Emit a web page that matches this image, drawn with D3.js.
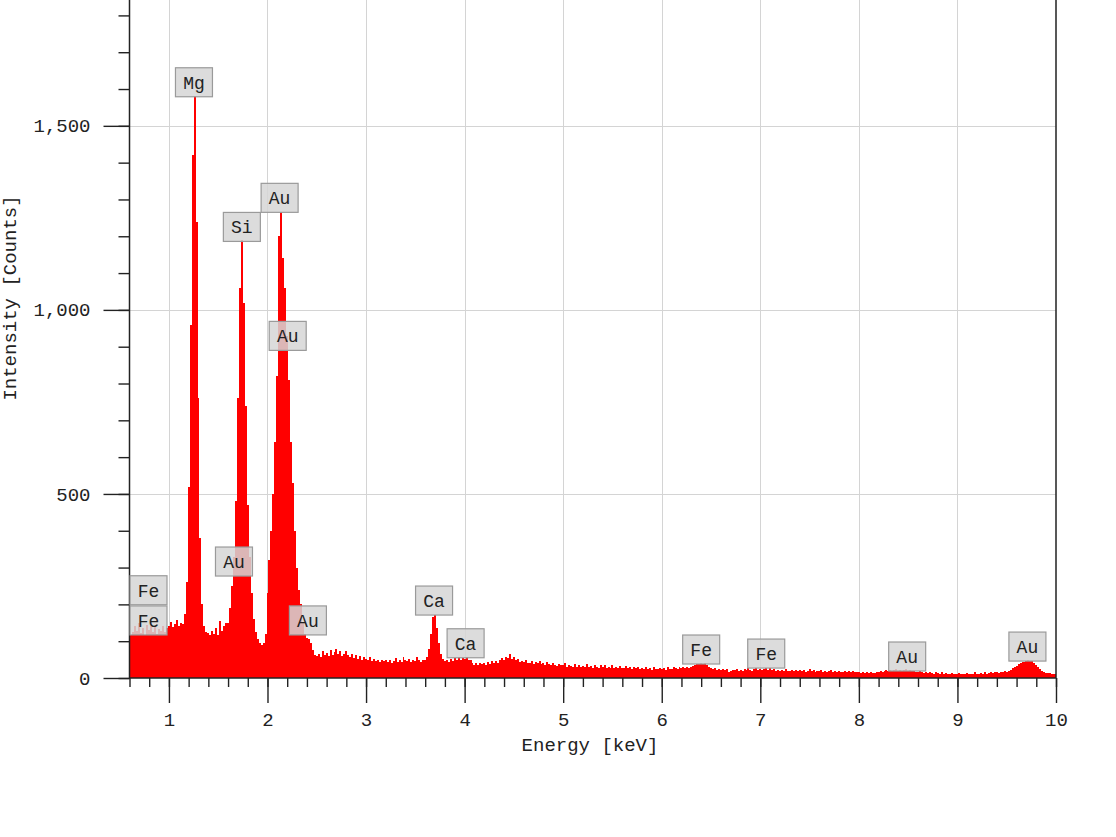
<!DOCTYPE html>
<html>
<head>
<meta charset="utf-8">
<script src="https://cdn.jsdelivr.net/npm/d3@7/dist/d3.min.js"></script>
<style>
  body { margin: 0; background: #fff; }
  svg text { font-family: "Liberation Mono", "DejaVu Sans Mono", monospace; fill: #222; }
</style>
</head>
<body>
<script>
// Spectrum channels: first channel energy and channel width (keV)
const startEnergy = 0.6;
const channelWidth = 0.02;

// Counts per channel, 0.60 .. 10.00 keV, rows of 0.2 keV
const counts = [
  112, 118, 125, 140, 128, 150, 122, 135, 118, 145, // 0.60
  130, 142, 125, 138, 120, 132, 128, 140, 126, 135, // 0.80
  140, 152, 138, 148, 158, 142, 150, 148, 175, 260, // 1.00
  520, 960, 1420, 1580, 1240, 760, 380, 200, 140, 125, // 1.20
  122, 118, 128, 120, 135, 118, 155, 128, 140, 150, // 1.40
  150, 190, 250, 330, 480, 760, 1060, 1190, 1020, 740, // 1.60
  470, 330, 230, 160, 125, 105, 95, 90, 95, 120, // 1.80
  230, 320, 400, 500, 640, 820, 1200, 1265, 1140, 1060, // 2.00
  930, 810, 640, 530, 400, 300, 240, 200, 150, 120, // 2.20
  110, 105, 95, 75, 62, 60, 66, 58, 72, 62, // 2.40
  68, 60, 76, 62, 70, 80, 64, 72, 60, 66, // 2.60
  74, 62, 58, 66, 55, 62, 52, 60, 50, 58, // 2.80
  52, 48, 56, 46, 52, 45, 50, 44, 49, 47, // 3.00
  50, 44, 48, 42, 46, 54, 44, 50, 43, 56, // 3.20
  48, 45, 52, 44, 50, 46, 58, 48, 44, 50, // 3.40
  48, 56, 80, 120, 165, 170, 135, 95, 65, 52, // 3.60
  46, 50, 44, 52, 47, 54, 49, 56, 50, 54, // 3.80
  52, 56, 50, 48, 42, 36, 40, 34, 42, 37, // 4.00
  41, 36, 44, 38, 45, 40, 47, 42, 49, 53, // 4.20
  50, 58, 55, 64, 52, 58, 48, 52, 44, 47, // 4.40
  44, 48, 40, 42, 46, 38, 43, 40, 45, 37, // 4.60
  40, 35, 44, 37, 34, 41, 36, 33, 39, 35, // 4.80
  34, 40, 31, 36, 33, 30, 38, 31, 35, 29, // 5.00
  33, 30, 37, 29, 32, 28, 36, 30, 28, 34, // 5.20
  29, 35, 28, 31, 27, 34, 28, 30, 26, 33, // 5.40
  28, 26, 32, 27, 31, 25, 30, 26, 29, 24, // 5.60
  28, 25, 31, 24, 27, 23, 30, 25, 24, 28, // 5.80
  24, 27, 23, 30, 25, 24, 31, 26, 25, 29, // 6.00
  26, 29, 27, 31, 28, 30, 33, 34, 37, 38, // 6.20
  40, 37, 41, 34, 31, 28, 25, 27, 23, 25, // 6.40
  22, 25, 21, 24, 15, 20, 23, 21, 24, 20, // 6.60
  23, 20, 24, 21, 26, 22, 20, 24, 27, 22, // 6.80
  25, 21, 24, 28, 22, 26, 21, 24, 20, 23, // 7.00
  19, 23, 18, 24, 20, 19, 23, 18, 21, 19, // 7.20
  23, 18, 21, 17, 20, 24, 18, 21, 17, 20, // 7.40
  18, 22, 17, 20, 16, 19, 22, 17, 19, 16, // 7.60
  19, 17, 15, 20, 16, 18, 15, 19, 16, 15, // 7.80
  17, 14, 16, 13, 17, 14, 16, 13, 14, 17, // 8.00
  15, 18, 16, 19, 21, 19, 23, 20, 22, 24, // 8.20
  20, 23, 19, 22, 24, 20, 23, 19, 18, 17, // 8.40
  16, 19, 15, 14, 17, 13, 15, 14, 12, 15, // 8.60
  13, 12, 15, 11, 13, 12, 11, 14, 10, 12, // 8.80
  11, 13, 10, 12, 11, 14, 10, 12, 11, 15, // 9.00
  12, 11, 14, 12, 15, 12, 13, 16, 13, 15, // 9.20
  15, 14, 17, 15, 19, 16, 18, 22, 26, 30, // 9.40
  33, 37, 40, 43, 44, 47, 48, 45, 47, 42, // 9.60
  36, 30, 24, 18, 15, 14, 13, 14, 12, 11, // 9.80
  10                                       // 10.00
];

// Peak markers: element, line energy (keV), marker height (counts)
const peakElements = ["Fe", "Fe", "Mg", "Au", "Si", "Au", "Au", "Au", "Ca", "Ca", "Fe", "Fe", "Au", "Au"];
const peakEnergies = [0.705, 0.718, 1.254, 1.66, 1.74, 2.123, 2.205, 2.41, 3.69, 4.01, 6.4, 7.06, 8.49, 9.71];
const peakHeights = [199, 117, 1579, 277, 1186, 1265, 890, 117, 171, 55, 38, 27, 19, 46];

// Axis ticks
const xMajorTicks = [1, 2, 3, 4, 5, 6, 7, 8, 9, 10];
const yMajorTicks = [0, 500, 1000, 1500];

const width = 1116;
const height = 837;
const plotLeft = 129.5;
const plotRight = 1056;
const plotBottom = 678;
const plotTop = -3;

const x = d3.scaleLinear().domain([0.6, 10]).range([plotLeft, plotRight]);
const y = d3.scaleLinear().domain([0, 1850]).range([plotBottom, plotTop]);

const spectrum = counts.map((c, i) => ({ e: startEnergy + i * channelWidth, c: c }));

const svg = d3
  .select("body")
  .append("svg")
  .attr("width", width)
  .attr("height", height);

// Grid
svg
  .append("g")
  .selectAll("line")
  .data(xMajorTicks.slice(0, -1))
  .join("line")
  .attr("x1", (d) => Math.round(x(d)) + 0.5)
  .attr("x2", (d) => Math.round(x(d)) + 0.5)
  .attr("y1", plotTop)
  .attr("y2", plotBottom)
  .attr("stroke", "#d4d4d4");

svg
  .append("g")
  .selectAll("line")
  .data(yMajorTicks.slice(1))
  .join("line")
  .attr("x1", plotLeft)
  .attr("x2", plotRight)
  .attr("y1", (d) => Math.round(y(d)) + 0.5)
  .attr("y2", (d) => Math.round(y(d)) + 0.5)
  .attr("stroke", "#d4d4d4");

// Spectrum
const area = d3
  .area()
  .curve(d3.curveStep)
  .x((d) => x(d.e))
  .y0(y(0))
  .y1((d) => y(d.c));

svg
  .append("path")
  .datum(spectrum)
  .attr("fill", "#ff0000")
  .attr("shape-rendering", "crispEdges")
  .attr("d", area);

// Axes
const xMinor = d3.range(30, 501, 10).map((d) => d / 50);
const yMinor = d3.range(0, 1801, 100);

svg
  .append("g")
  .attr("transform", "translate(0," + plotBottom + ")")
  .call(d3.axisBottom(x).tickValues(xMinor).tickSize(9).tickFormat(""))
  .call((g) => g.select(".domain").remove());

svg
  .append("g")
  .attr("class", "axis")
  .attr("transform", "translate(0," + plotBottom + ")")
  .call(d3.axisBottom(x).tickValues(xMajorTicks).tickSize(25).tickPadding(10).tickFormat(d3.format("d")))
  .call((g) => g.select(".domain").remove());

svg
  .append("g")
  .attr("transform", "translate(" + plotLeft + ",0)")
  .call(d3.axisLeft(y).tickValues(yMinor).tickSize(11).tickFormat(""))
  .call((g) => g.select(".domain").remove());

svg
  .append("g")
  .attr("class", "axis")
  .attr("transform", "translate(" + plotLeft + ",0)")
  .call(d3.axisLeft(y).tickValues(yMajorTicks).tickSize(26).tickPadding(13).tickFormat(d3.format(",")))
  .call((g) => g.select(".domain").remove());

svg.selectAll(".tick line").attr("stroke", "#222").attr("stroke-width", 1.4);
svg.selectAll(".axis text").attr("font-size", 19).attr("fill", "#222").attr("font-family", null);

// Frame: left, bottom, right
svg
  .append("path")
  .attr("d", "M" + plotLeft + "," + plotTop + "V" + plotBottom + "H" + plotRight + "V" + plotTop)
  .attr("fill", "none")
  .attr("stroke", "#222")
  .attr("stroke-width", 1.5);

// Axis titles
svg
  .append("text")
  .attr("x", 590)
  .attr("y", 751)
  .attr("text-anchor", "middle")
  .attr("font-size", 19)
  .text("Energy [keV]");

svg
  .append("text")
  .attr("transform", "translate(16,298) rotate(-90)")
  .attr("text-anchor", "middle")
  .attr("font-size", 19)
  .text("Intensity [Counts]");

// Peak markers
const boxW = 37;
const boxH = 29;
const markers = svg
  .append("g")
  .selectAll("g")
  .data(peakElements.map((el, i) => ({ el: el, e: peakEnergies[i], c: peakHeights[i] })))
  .join("g")
  .attr("transform", (d) => {
    const bx = Math.max(plotLeft + 0.5, x(d.e) - boxW / 2);
    const by = y(d.c) - boxH;
    return "translate(" + bx + "," + by + ")";
  });

markers
  .append("rect")
  .attr("width", boxW)
  .attr("height", boxH)
  .attr("fill", "#d6d6d6")
  .attr("fill-opacity", 0.85)
  .attr("stroke", "#9a9a9a")
  .attr("stroke-width", 1.2);

markers
  .append("text")
  .attr("x", boxW / 2)
  .attr("y", boxH / 2)
  .attr("dy", "0.36em")
  .attr("text-anchor", "middle")
  .attr("font-size", 18)
  .text((d) => d.el);
</script>
</body>
</html>
